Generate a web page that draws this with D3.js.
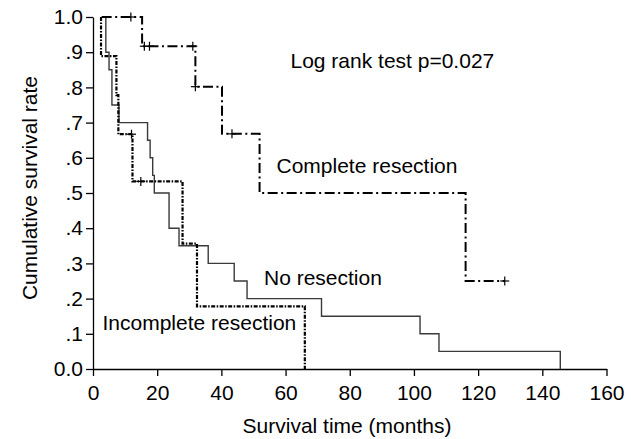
<!DOCTYPE html>
<html>
<head>
<meta charset="utf-8">
<script src="https://cdn.jsdelivr.net/npm/d3@7"></script>
<style>
  body { margin: 0; background: #fff; }
  text { font-family: "Liberation Sans", Arial, sans-serif; fill: #000; }
</style>
</head>
<body>
<script>
// Kaplan-Meier curves, values
var noResTime = [2.8, 4.0, 5.0, 5.9, 8.1, 17.0, 17.8, 18.6, 19.1, 23.7, 26.8, 35.9, 44.0, 48.0, 71.2, 101.9, 107.8, 145.6]
var noResSurv = [1.0, 0.9, 0.85, 0.75, 0.7, 0.65, 0.6, 0.55, 0.5, 0.4, 0.35, 0.3, 0.25, 0.2, 0.15, 0.1, 0.05, 0.0]

var incTime = [2.5, 2.5, 7.3, 7.9, 12.3, 27.9, 32.4, 66.0]
var incSurv = [1.0, 0.889, 0.778, 0.667, 0.533, 0.356, 0.178, 0.0]
var incCensTime = [12.0, 14.9]
var incCensSurv = [0.667, 0.533]

var compTime = [2.7, 15.3, 31.9, 40.2, 51.9, 116.1, 128.3]
var compSurv = [1.0, 0.917, 0.802, 0.668, 0.5, 0.25, 0.25]
var compCensTime = [11.8, 16.0, 17.6, 31.1, 31.9, 43.3, 128.3]
var compCensSurv = [1.0, 0.917, 0.917, 0.917, 0.802, 0.668, 0.25]

var xTicks = [0, 20, 40, 60, 80, 100, 120, 140, 160]
var yTicks = [0, 0.1, 0.2, 0.3, 0.4, 0.5, 0.6, 0.7, 0.8, 0.9, 1.0]
var yTickLabels = ["0.0", ".1", ".2", ".3", ".4", ".5", ".6", ".7", ".8", ".9", "1.0"]

var W = 631, H = 439

var svg = d3.select("body").append("svg")
    .attr("width", W).attr("height", H)

var x = d3.scaleLinear().domain([0, 160]).range([93, 606.5])
var y = d3.scaleLinear().domain([0, 1]).range([369, 17])

// axes
var xAxis = svg.append("g")
    .attr("transform", `translate(0, ${y(0)})`)
    .call(d3.axisBottom(x).tickValues(xTicks).tickSize(7).tickPadding(9).tickSizeOuter(0))
var yAxis = svg.append("g")
    .attr("transform", `translate(${x(0)}, 0)`)
    .call(d3.axisLeft(y).tickValues(yTicks).tickSize(7).tickPadding(3).tickSizeOuter(0)
      .tickFormat(function(d, i){ return yTickLabels[i] }))

svg.selectAll(".domain, .tick line").attr("stroke", "#000").attr("stroke-width", 1.3)
svg.selectAll(".tick text").attr("font-size", 21).attr("font-family", "Liberation Sans, Arial, sans-serif").attr("fill", "#000")

function zip(t, s){ return t.map(function(d, i){ return [d, s[i]] }) }

var line = d3.line()
    .x(function(d){ return x(d[0]) })
    .y(function(d){ return y(d[1]) })
    .curve(d3.curveStepAfter)

svg.append("path").datum(zip(noResTime, noResSurv))
    .attr("d", line).attr("fill", "none")
    .attr("stroke", "#3a3a3a").attr("stroke-width", 1.4)

svg.append("path").datum(zip(incTime, incSurv))
    .attr("d", line).attr("fill", "none")
    .attr("stroke", "#000").attr("stroke-width", 2.2)
    .attr("stroke-dasharray", "4,1.5,1.5,1.5")

svg.append("path").datum(zip(compTime, compSurv))
    .attr("d", line).attr("fill", "none")
    .attr("stroke", "#000").attr("stroke-width", 2)
    .attr("stroke-dasharray", "10,3.5,2,3.5")

// censor marks
function censors(t, s){
  var g = svg.append("g").attr("stroke", "#000").attr("stroke-width", 1.2)
  zip(t, s).forEach(function(d){
    g.append("line").attr("x1", x(d[0])).attr("x2", x(d[0]))
      .attr("y1", y(d[1]) - 4.5).attr("y2", y(d[1]) + 4.5)
    g.append("line").attr("x1", x(d[0]) - 4.5).attr("x2", x(d[0]) + 4.5)
      .attr("y1", y(d[1])).attr("y2", y(d[1]))
  })
}
censors(incCensTime, incCensSurv)
censors(compCensTime, compCensSurv)

// labels
function label(txt, tx, ty){
  svg.append("text").attr("x", tx).attr("y", ty).attr("font-size", 21).text(txt)
}
label("Log rank test p=0.027", 290.5, 68)
label("Complete resection", 276.5, 173)
label("No resection", 264, 285)
label("Incomplete resection", 102.5, 330)

svg.append("text")
    .attr("x", 347).attr("y", 432.5)
    .attr("text-anchor", "middle").attr("font-size", 21)
    .text("Survival time (months)")

svg.append("text")
    .attr("transform", "translate(36.5, 188) rotate(-90)")
    .attr("text-anchor", "middle").attr("font-size", 21)
    .text("Cumulative survival rate")
</script>
</body>
</html>
